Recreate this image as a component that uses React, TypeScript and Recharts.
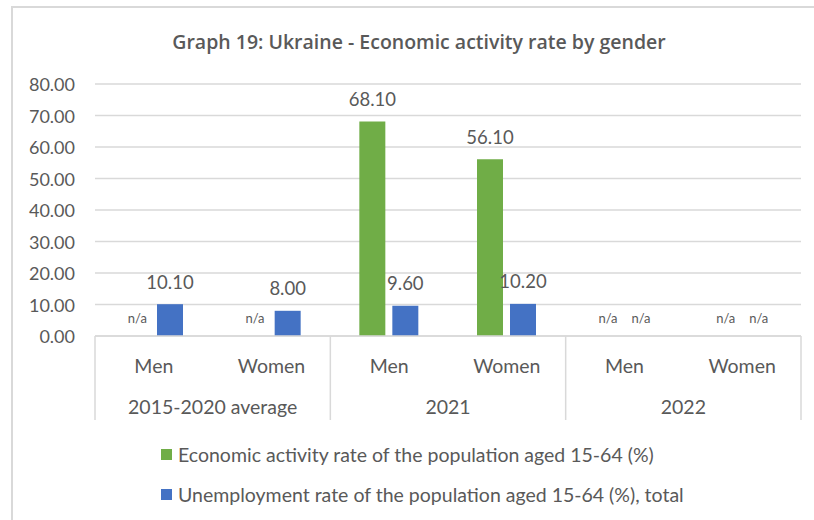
import { BarChart, Bar, XAxis, YAxis, CartesianGrid, Legend, LabelList } from "recharts";

const genders = ["Men", "Women", "Men", "Women", "Men", "Women"];
const periods = ["2015-2020 average", "2015-2020 average", "2021", "2021", "2022", "2022"];
const activityRate: (number | null)[] = [null, null, 68.1, 56.1, null, null];
const unemploymentRate: (number | null)[] = [10.1, 8.0, 9.6, 10.2, null, null];
const yTicks = [0, 10, 20, 30, 40, 50, 60, 70, 80];

const seriesNames = [
  "Economic activity rate of the population aged 15-64 (%)",
  "Unemployment rate of the population aged 15-64 (%), total",
];
const GREEN = "#70ad47";
const BLUE = "#4472c4";
const TEXT = "#595959";
const GRID = "#d9d9d9";
const FONT = "Lato, 'Open Sans', sans-serif";

const fmt = (v: number | null) => (v == null ? "n/a" : v.toFixed(2));

const data = genders.map((g, i) => ({
  gender: g,
  period: periods[i],
  activity: activityRate[i] ?? 0,
  unemployment: unemploymentRate[i] ?? 0,
  activityLabel: fmt(activityRate[i]),
  unemploymentLabel: fmt(unemploymentRate[i]),
}));

// plot area
const W = 814;
const H = 520;
const PLOT_LEFT = 95;
const PLOT_RIGHT = 801;
const PLOT_BOTTOM = 336;
const BAND = (PLOT_RIGHT - PLOT_LEFT) / genders.length;
const BAR_SIZE = 26;
const BAR_GAP = 7;

function ValueLabel(props: any) {
  const vb = props.viewBox || props;
  if (props.value === "n/a") return null;
  const x = vb.x + vb.width / 2;
  const top = Math.min(vb.y, vb.y + vb.height);
  return (
    <text x={x} y={top - 22.5} textAnchor="middle" dominantBaseline="central" fontSize={18.5} fill={TEXT} fontFamily={FONT}>
      {props.value}
    </text>
  );
}

function YTick(props: any) {
  return (
    <text x={75} y={props.y} textAnchor="end" dominantBaseline="central" fontSize={18} fill={TEXT} fontFamily={FONT}>
      {Number(props.payload.value).toFixed(2)}
    </text>
  );
}

// category labels, plus the "n/a" markers where a series has no value
function GenderTick(props: any) {
  const i = props.index;
  const off = (BAR_SIZE + BAR_GAP) / 2;
  return (
    <g>
      <text x={props.x} y={365} textAnchor="middle" dominantBaseline="central" fontSize={19.5} fill={TEXT} fontFamily={FONT}>
        {props.payload.value}
      </text>
      {activityRate[i] == null && (
        <text x={props.x - off} y={318} textAnchor="middle" dominantBaseline="central" fontSize={13} fill={TEXT} fontFamily={FONT}>
          n/a
        </text>
      )}
      {unemploymentRate[i] == null && (
        <text x={props.x + off} y={318} textAnchor="middle" dominantBaseline="central" fontSize={13} fill={TEXT} fontFamily={FONT}>
          n/a
        </text>
      )}
    </g>
  );
}

function PeriodTick(props: any) {
  const i = props.index;
  const left = props.x - BAND / 2;
  return (
    <g>
      {i % 2 === 0 && (
        <>
          <line x1={left} x2={left} y1={PLOT_BOTTOM} y2={420} stroke={GRID} strokeWidth={1.5} />
          <text x={props.x + BAND / 2} y={406} textAnchor="middle" dominantBaseline="central" fontSize={19.5} fill={TEXT} fontFamily={FONT}>
            {props.payload.value}
          </text>
        </>
      )}
      {i === genders.length - 1 && (
        <line x1={props.x + BAND / 2} x2={props.x + BAND / 2} y1={PLOT_BOTTOM} y2={420} stroke={GRID} strokeWidth={1.5} />
      )}
    </g>
  );
}

function LegendContent() {
  const colors = [GREEN, BLUE];
  return (
    <div style={{ fontFamily: FONT, fontSize: 19.5, color: TEXT }}>
      {seriesNames.map((n, i) => (
        <div key={n} style={{ display: "flex", alignItems: "center", height: 40 }}>
          <span style={{ width: 11, height: 11, background: colors[i], marginRight: 6, display: "inline-block" }} />
          <span>{n}</span>
        </div>
      ))}
    </div>
  );
}

export default function App() {
  return (
    <div style={{ position: "absolute", left: 0, top: 0, width: W, height: H, background: "#fff", overflow: "hidden" }}>
      <div
        style={{
          position: "absolute",
          left: 11,
          top: 6,
          width: W,
          height: H,
          borderLeft: `2px solid ${GRID}`,
          borderTop: `2px solid ${GRID}`,
        }}
      />
      <div
        style={{
          position: "absolute",
          left: 0,
          width: 838,
          top: 30,
          textAlign: "center",
          fontFamily: "'Open Sans', Lato, sans-serif",
          fontWeight: 600,
          fontSize: 19.5,
          color: TEXT,
          lineHeight: "24px",
        }}
      >
        Graph 19: Ukraine - Economic activity rate by gender
      </div>
      <div style={{ position: "absolute", left: 0, top: 0 }}>
        <BarChart
          width={W}
          height={H}
          data={data}
          margin={{ top: 84, right: W - PLOT_RIGHT, bottom: 96, left: 0 }}
          barSize={BAR_SIZE}
          barGap={BAR_GAP}
        >
          <CartesianGrid vertical={false} stroke={GRID} strokeWidth={1.5} />
          <XAxis
            dataKey="gender"
            xAxisId="gender"
            height={44}
            tick={<GenderTick />}
            tickLine={false}
            axisLine={{ stroke: GRID, strokeWidth: 1.5 }}
            interval={0}
          />
          <XAxis
            dataKey="period"
            xAxisId="period"
            height={44}
            tick={<PeriodTick />}
            tickLine={false}
            axisLine={false}
            interval={0}
            allowDuplicatedCategory
          />
          <YAxis
            width={PLOT_LEFT}
            domain={[0, 80]}
            ticks={yTicks}
            tick={<YTick />}
            tickLine={false}
            axisLine={false}
          />
          <Legend
            layout="vertical"
            align="center"
            verticalAlign="middle"
            content={<LegendContent />}
            wrapperStyle={{ position: "absolute", left: 161, top: 434, width: 640 }}
          />
          <Bar dataKey="activity" xAxisId="gender" fill={GREEN} name={seriesNames[0]} isAnimationActive={false}>
            <LabelList dataKey="activityLabel" content={<ValueLabel />} />
          </Bar>
          <Bar dataKey="unemployment" xAxisId="gender" fill={BLUE} name={seriesNames[1]} isAnimationActive={false}>
            <LabelList dataKey="unemploymentLabel" content={<ValueLabel />} />
          </Bar>
        </BarChart>
      </div>
    </div>
  );
}
